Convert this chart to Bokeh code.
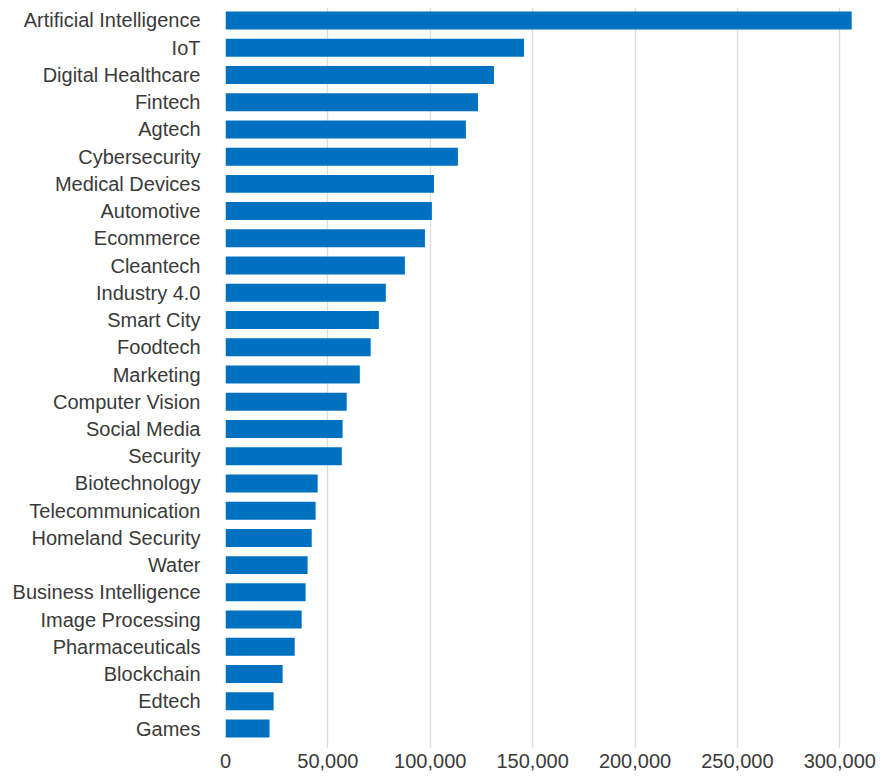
from bokeh.plotting import figure
from bokeh.models import Range1d, FixedTicker, NumeralTickFormatter
from bokeh.embed import file_html
from bokeh.resources import INLINE

categories = ["Artificial Intelligence", "IoT", "Digital Healthcare", "Fintech", "Agtech",
              "Cybersecurity", "Medical Devices", "Automotive", "Ecommerce", "Cleantech",
              "Industry 4.0", "Smart City", "Foodtech", "Marketing", "Computer Vision",
              "Social Media", "Security", "Biotechnology", "Telecommunication",
              "Homeland Security", "Water", "Business Intelligence", "Image Processing",
              "Pharmaceuticals", "Blockchain", "Edtech", "Games"]
values = [305800, 145800, 131100, 123300, 117400, 113500, 101800, 100800, 97400, 87600,
          78300, 74900, 70900, 65600, 59200, 57200, 56800, 45000, 44000, 42100, 40100,
          39100, 37200, 33800, 27900, 23500, 21500]
x_ticks = [0, 50000, 100000, 150000, 200000, 250000, 300000]

positions = list(range(len(categories)))

p = figure(width=880, height=776, output_backend="svg", toolbar_location=None,
           x_range=Range1d(0, 315000), y_range=Range1d(26.734, -0.477),
           min_border_left=225, min_border_right=10, min_border_top=7, min_border_bottom=28)

p.hbar(y=positions, right=values, left=0, height=0.66, color="#0070C0", line_color=None)

p.outline_line_color = None
p.ygrid.grid_line_color = None
p.xgrid.grid_line_color = "#dddddd"
p.xgrid.grid_line_width = 1.3
p.xaxis.ticker = FixedTicker(ticks=x_ticks)
p.xaxis.formatter = NumeralTickFormatter(format="0,0")
p.yaxis.ticker = FixedTicker(ticks=positions)
p.yaxis.major_label_overrides = {i: c for i, c in zip(positions, categories)}

for ax in (p.xaxis, p.yaxis):
    ax.axis_line_color = None
    ax.major_tick_line_color = None
    ax.minor_tick_line_color = None
    ax.major_tick_out = 0
    ax.major_tick_in = 0
    ax.major_label_text_font = "Liberation Sans"
    ax.major_label_text_font_size = "20px"
    ax.major_label_text_color = "#3a3a3a"

p.yaxis.major_label_standoff = 25
p.xaxis.major_label_standoff = 5

open("out.html", "w").write(file_html(p, INLINE))
